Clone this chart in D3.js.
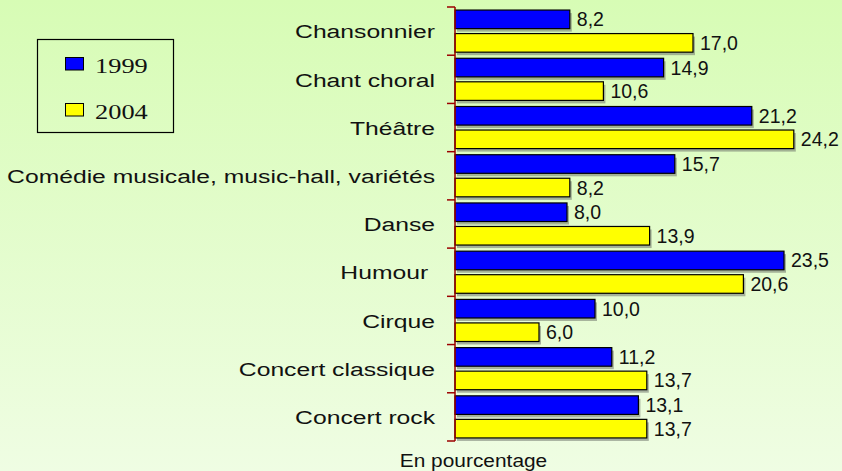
<!DOCTYPE html>
<html>
<head>
<meta charset="utf-8">
<script src="https://cdn.jsdelivr.net/npm/d3@7"></script>
<style>
  html, body { margin: 0; padding: 0; }
  svg { display: block; }
</style>
</head>
<body>
<svg id="chart" width="842" height="471"></svg>
<script>
const categories = ["Chansonnier", "Chant choral", "Théâtre", "Comédie musicale, music-hall, variétés", "Danse", "Humour\u00a0", "Cirque", "Concert classique", "Concert rock"];
const seriesNames = ["1999", "2004"];
const values1999 = [8.2, 14.9, 21.2, 15.7, 8.0, 23.5, 10.0, 11.2, 13.1];
const values2004 = [17.0, 10.6, 24.2, 8.2, 13.9, 20.6, 6.0, 13.7, 13.7];
const seriesColors = ["#0000ff", "#ffff00"];
const axisTitle = "En pourcentage";

const svg = d3.select("#chart");
const W = 842, H = 471;

// background gradient
const defs = svg.append("defs");
const grad = defs.append("linearGradient").attr("id", "bg").attr("x1", 0).attr("y1", 0).attr("x2", 0).attr("y2", 1);
grad.append("stop").attr("offset", "0%").attr("stop-color", "#d7fcb5");
grad.append("stop").attr("offset", "100%").attr("stop-color", "#effde3");
svg.append("rect").attr("width", W).attr("height", H).attr("fill", "url(#bg)");

const x = d3.scaleLinear().domain([0, 25]).range([455, 805]);
const y = d3.scaleBand().domain(categories).range([7, 441]).padding(0);
const ys = d3.scaleBand().domain(seriesNames).range([0, y.bandwidth()]).paddingInner(0.21).paddingOuter(0.13);

const rows = categories.map((c, i) => ({ cat: c, vals: [values1999[i], values2004[i]] }));
const fmt = v => d3.format(".1f")(v).replace(".", ",");

const g = svg.append("g");
const catG = g.selectAll("g.cat").data(rows).join("g").attr("class", "cat")
  .attr("transform", d => `translate(0,${y(d.cat)})`);

const bars = catG.selectAll("g.bar").data(d => d.vals.map((v, j) => ({ v, s: seriesNames[j], j })))
  .join("g").attr("class", "bar");

// shadows
bars.append("rect")
  .attr("x", x(0) + 2).attr("y", d => ys(d.s) + 3)
  .attr("width", d => x(d.v) - x(0)).attr("height", ys.bandwidth())
  .attr("fill", "#6f756c").attr("opacity", 0.55);

bars.append("rect")
  .attr("x", x(0)).attr("y", d => ys(d.s))
  .attr("width", d => x(d.v) - x(0)).attr("height", ys.bandwidth())
  .attr("fill", d => seriesColors[d.j]).attr("stroke", "#000").attr("stroke-width", 1.2);

bars.append("text")
  .attr("x", d => x(d.v) + 7).attr("y", d => ys(d.s) + ys.bandwidth() / 2)
  .attr("dy", "0.36em")
  .attr("font-family", "'Liberation Sans', Arial, sans-serif")
  .attr("font-size", 19.5).attr("fill", "#111")
  .text(d => fmt(d.v));

// axis
const axis = d3.axisLeft(y).tickSize(8).tickFormat("");
const axG = svg.append("g").attr("transform", `translate(${x(0)},0)`).call(axis);
axG.select(".domain").remove();
axG.selectAll(".tick").remove();
const boundaries = d3.range(categories.length + 1).map(i => y.range()[0] + i * y.step());
axG.selectAll("line.b").data(boundaries).join("line").attr("class", "b")
  .attr("x1", -8).attr("x2", 0).attr("y1", d => d).attr("y2", d => d)
  .attr("stroke", "#9b0000").attr("stroke-width", 1.5);
axG.append("line").attr("x1", 0).attr("x2", 0).attr("y1", y.range()[0]).attr("y2", y.range()[1])
  .attr("stroke", "#9b0000").attr("stroke-width", 1.5);

// category labels
svg.append("g").selectAll("text").data(categories).join("text")
  .attr("transform", d => `translate(435,${y(d) + y.bandwidth() / 2}) scale(1.3,1)`)
  .attr("text-anchor", "end").attr("dy", "0.38em")
  .attr("font-family", "'Liberation Sans', Arial, sans-serif")
  .attr("font-size", 19).attr("fill", "#111")
  .style("white-space", "pre")
  .text(d => d);

// axis title
svg.append("text")
  .attr("transform", "translate(473.5,466.5) scale(1.13,1)")
  .attr("text-anchor", "middle")
  .attr("font-family", "'Liberation Sans', Arial, sans-serif")
  .attr("font-size", 18.5).attr("fill", "#111")
  .text(axisTitle);

// legend
const leg = svg.append("g");
leg.append("rect").attr("x", 37.5).attr("y", 39.5).attr("width", 136).attr("height", 93)
  .attr("fill", "none").attr("stroke", "#000").attr("stroke-width", 1.2);
const legY = [57, 103];
const li = leg.selectAll("g.li").data(seriesNames).join("g").attr("class", "li");
li.append("rect").attr("x", 65.5).attr("y", (d, i) => legY[i] + 0.5).attr("width", 18).attr("height", 12.5)
  .attr("fill", (d, i) => seriesColors[i]).attr("stroke", "#000").attr("stroke-width", 1);
li.append("text")
  .attr("transform", (d, i) => `translate(95,${legY[i] + 15.5}) scale(1.2,1)`)
  .attr("font-family", "'Liberation Serif', 'Times New Roman', serif")
  .attr("font-size", 22).attr("fill", "#111")
  .text(d => d);
</script>
</body>
</html>
